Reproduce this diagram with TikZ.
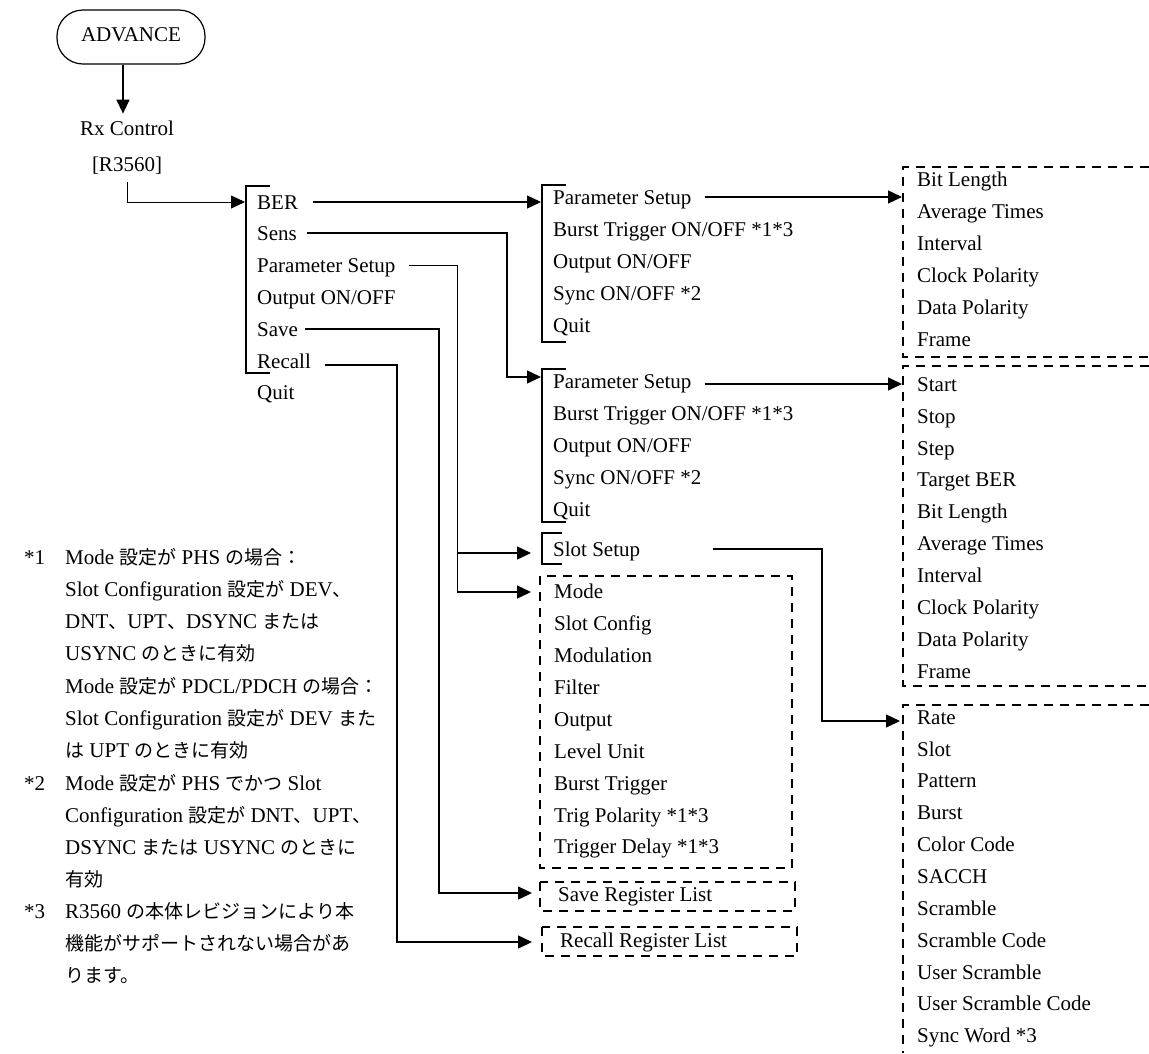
\documentclass[tikz,border=0pt]{standalone}
\usepackage{fontspec}
\setmainfont{Liberation Serif}
\newfontfamily\jpfont{Noto Sans CJK JP}
\usetikzlibrary{arrows.meta}
\newcommand\J[1]{{\jpfont\fontsize{19}{19}\selectfont #1}}
\begin{document}
\begin{tikzpicture}[x=1pt,y=-1pt,
  item/.style={anchor=west, inner sep=0pt, text height=15pt, text depth=1pt, font=\fontsize{21}{21}\selectfont},
  ctext/.style={anchor=center, inner sep=0pt, text height=15pt, text depth=1pt, font=\fontsize{21}{21}\selectfont},
  ln/.style={line width=1.4pt},
  thinln/.style={line width=0.8pt},
  arr/.style={-{Triangle[length=14pt,width=13pt]}},
  dsh/.style={line width=1.2pt, dash pattern=on 9pt off 7pt},
  brk/.style={line width=1.2pt}]
\useasboundingbox (0,0) rectangle (1149,1053);

% ADVANCE
\node[draw, line width=1.2pt, rounded corners=26pt, minimum width=148pt, minimum height=54pt,
  inner sep=0pt, font=\fontsize{21}{21}\selectfont] (adv) at (131,37) {\raisebox{4pt}{ADVANCE}};
\node[ctext] (rx1) at (127,128) {Rx Control};
\node[ctext] (rx2) at (127,164) {[R3560]};
\draw[ln,arr] ([xshift=-8pt]adv.south) -- ++(0,49);

% main menu
\node[item] (mBER) at (257,202) {BER};
\node[item] (mSens) at (257,233) {Sens};
\node[item] (mPar) at (257,265) {Parameter Setup};
\node[item] (mOut) at (257,297) {Output ON/OFF};
\node[item] (mSave) at (257,329) {Save};
\node[item] (mRec) at (257,361) {Recall};
\node[item] (mQuit) at (257,392) {Quit};
\draw[brk] (270,186) -- (246,186) -- (246,373) -- (270,373);
\coordinate (rxout) at (127,182);
\coordinate (mIn) at (245,202);
\draw[thinln,arr] (rxout) |- (mIn);

% BER submenu
\node[item] (b1) at (553,197) {Parameter Setup};
\node[item] (b2) at (553,229) {Burst Trigger ON/OFF *1*3};
\node[item] (b3) at (553,261) {Output ON/OFF};
\node[item] (b4) at (553,293) {Sync ON/OFF *2};
\node[item] (b5) at (553,325) {Quit};
\draw[brk] (566,185) -- (542,185) -- (542,342) -- (566,342);

% Sens submenu
\node[item] (s1) at (553,381) {Parameter Setup};
\node[item] (s2) at (553,413) {Burst Trigger ON/OFF *1*3};
\node[item] (s3) at (553,445) {Output ON/OFF};
\node[item] (s4) at (553,477) {Sync ON/OFF *2};
\node[item] (s5) at (553,509) {Quit};
\draw[brk] (566,369) -- (542,369) -- (542,522) -- (566,522);

% Slot setup
\node[item] (sl) at (553,549) {Slot Setup};
\draw[brk] (562,533) -- (542,533) -- (542,564) -- (562,564);

% Mode box
\node[item] (md1) at (554,591) {Mode};
\node[item] (md2) at (554,623) {Slot Config};
\node[item] (md3) at (554,655) {Modulation};
\node[item] (md4) at (554,687) {Filter};
\node[item] (md5) at (554,719) {Output};
\node[item] (md6) at (554,751) {Level Unit};
\node[item] (md7) at (554,783) {Burst Trigger};
\node[item] (md8) at (554,815) {Trig Polarity *1*3};
\node[item] (md9) at (554,846) {Trigger Delay *1*3};
\draw[dsh] (540,576) rectangle (792,868);

% Save / Recall lists
\node[item] (sv) at (558,894) {Save Register List};
\draw[dsh] (540,882) rectangle (795,911);
\node[item] (rc) at (560,940) {Recall Register List};
\draw[dsh] (542,927) rectangle (797,956);

% right box 1
\node[item] (r1) at (917,179) {Bit Length};
\node[item] (r2) at (917,211) {Average Times};
\node[item] (r3) at (917,243) {Interval};
\node[item] (r4) at (917,275) {Clock Polarity};
\node[item] (r5) at (917,307) {Data Polarity};
\node[item] (r6) at (917,339) {Frame};
\draw[dsh] (1149,167) -- (903,167) -- (903,357) -- (1149,357);

% right box 2
\node[item] (t1) at (917,384) {Start};
\node[item] (t2) at (917,416) {Stop};
\node[item] (t3) at (917,448) {Step};
\node[item] (t4) at (917,479) {Target BER};
\node[item] (t5) at (917,511) {Bit Length};
\node[item] (t6) at (917,543) {Average Times};
\node[item] (t7) at (917,575) {Interval};
\node[item] (t8) at (917,607) {Clock Polarity};
\node[item] (t9) at (917,639) {Data Polarity};
\node[item] (t10) at (917,671) {Frame};
\draw[dsh] (1149,366) -- (903,366) -- (903,686) -- (1149,686);

% right box 3
\node[item] (u1) at (917,717) {Rate};
\node[item] (u2) at (917,749) {Slot};
\node[item] (u3) at (917,780) {Pattern};
\node[item] (u4) at (917,812) {Burst};
\node[item] (u5) at (917,844) {Color Code};
\node[item] (u6) at (917,876) {SACCH};
\node[item] (u7) at (917,908) {Scramble};
\node[item] (u8) at (917,940) {Scramble Code};
\node[item] (u9) at (917,972) {User Scramble};
\node[item] (u10) at (917,1003) {User Scramble Code};
\node[item] (u11) at (917,1035) {Sync Word *3};
\draw[dsh] (1149,705) -- (903,705) -- (903,1053);

% connectors
\coordinate (bIn) at (541,202);
\coordinate (sIn) at (541,377);
\coordinate (slIn) at (531,553);
\coordinate (mdIn) at (531,592);
\coordinate (svIn) at (532,893);
\coordinate (rcIn) at (532,942);
\coordinate (box1) at (902,197);
\coordinate (box2) at (902,384);
\coordinate (box3) at (900,721);

\draw[ln,arr] ([xshift=15pt]mBER.east) -- (bIn);
\draw[ln,arr] ([xshift=10pt]mSens.east) -| (507,377) -- (sIn);
\draw[thinln] ([xshift=13pt]mPar.east) -| (457,592);
\draw[ln,arr] (457,592) -- (mdIn);
\draw[ln,arr] (457,553) -- (slIn);
\draw[ln,arr] ([xshift=7pt]mSave.east) -| (439,893) -- (svIn);
\draw[ln,arr] ([xshift=14pt,yshift=-4pt]mRec.east) -| (397,942) -- (rcIn);
\draw[ln,arr] ([xshift=13pt]b1.east) -- (box1);
\draw[ln,arr] ([xshift=13pt,yshift=-3pt]s1.east) -- (box2);
\draw[ln,arr] ([xshift=73pt]sl.east) -| (822,721) -- (box3);

% footnotes
\node[item] (n1) at (24,557) {*1};
\node[item] (f1) at (65,557) {Mode \J{設定が} PHS \J{の場合：}};
\node[item] (f2) at (65,589) {Slot Configuration \J{設定が} DEV\J{、}};
\node[item] (f3) at (65,621) {DNT\J{、}UPT\J{、}DSYNC \J{または}};
\node[item] (f4) at (65,653) {USYNC \J{のときに有効}};
\node[item] (f5) at (65,686) {Mode \J{設定が} PDCL/PDCH \J{の場合：}};
\node[item] (f6) at (65,718) {Slot Configuration \J{設定が} DEV \J{また}};
\node[item] (f7) at (65,750) {\J{は} UPT \J{のときに有効}};
\node[item] (n2) at (24,783) {*2};
\node[item] (f8) at (65,783) {Mode \J{設定が} PHS \J{でかつ} Slot};
\node[item] (f9) at (65,815) {Configuration \J{設定が} DNT\J{、}UPT\J{、}};
\node[item] (f10) at (65,847) {DSYNC \J{または} USYNC \J{のときに}};
\node[item] (f11) at (65,879) {\J{有効}};
\node[item] (n3) at (24,911) {*3};
\node[item] (f12) at (65,911) {R3560 \J{の本体レビジョンにより本}};
\node[item] (f13) at (65,943) {\J{機能がサポートされない場合があ}};
\node[item] (f14) at (65,975) {\J{ります。}};
\end{tikzpicture}
\end{document}
